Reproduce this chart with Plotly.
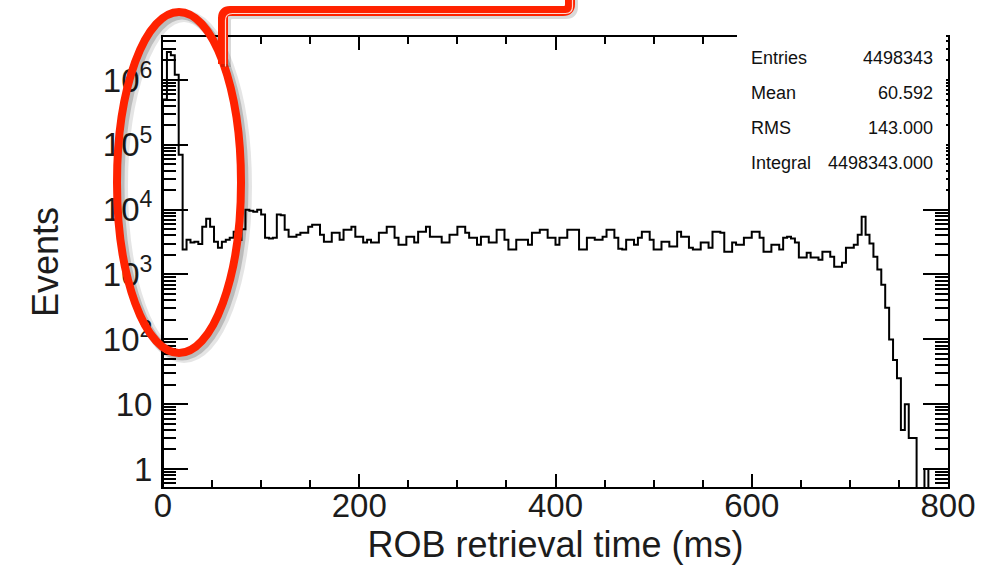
import numpy as np
import plotly.graph_objects as go

# ROB retrieval time distribution, 4 ms bins from 0 to 800 ms
BIN_WIDTH = 4
X_MIN, X_MAX = 0, 800

# 0-20 ms: the fast-retrieval spike
spike_counts = [500000, 2700000, 2400000, 1200000, 70000]

# 20-720 ms: the flat plateau
plateau_counts = [
    2420, 3440, 3100, 3200, 2950, 5470, 7260, 5470, 3210, 2590,
    3210, 3440, 3700, 4570, 3400, 5000, 10000, 9600, 9300, 10000,
    8400, 3700, 3600, 3700, 8400, 8200, 4910, 3830, 3830, 4110,
    4410, 4400, 5470, 5870, 5870, 4110, 3210, 3210, 4410, 4410,
    3440, 4910, 4910, 5470, 3830, 3830, 3100, 3440, 3100, 3100,
    4410, 4410, 5470, 5470, 3700, 2880, 2880, 3830, 3830, 3100,
    4570, 4570, 5470, 3830, 3830, 3830, 3100, 3100, 4110, 4110,
    5470, 5470, 4410, 3700, 3700, 2880, 3830, 3830, 3100, 3100,
    4910, 4910, 3440, 2420, 2420, 3440, 3440, 3440, 2880, 4410,
    4410, 4910, 4910, 3700, 3700, 2880, 3700, 3700, 4910, 4910,
    4910, 2420, 2420, 3700, 3700, 3440, 3440, 3830, 4910, 4910,
    3700, 2500, 2420, 3440, 3440, 2880, 3700, 4570, 4570, 3440,
    2420, 2420, 3210, 3210, 2690, 2690, 4570, 3830, 3830, 2590,
    2420, 2420, 3100, 3100, 2590, 4570, 4570, 4410, 2250, 2250,
    3100, 2880, 2880, 3700, 3700, 4570, 4570, 3700, 2250, 2250,
    2880, 2880, 2420, 3700, 3830, 3600, 3100, 1820, 1820, 2170,
    1820, 1820, 1690, 2250, 2250, 1880, 1320, 1320, 1520, 2590,
    2590, 2880, 4110, 7800, 4110,
]

# 720-800 ms: the timeout edge and tail
tail_counts = [3000, 1880, 1190, 697, 308, 99, 48, 25, 4, 10,
               3, 3, 0, 0, 1, 0, 0, 0, 0, 0]

y_tick_vals = [1, 10, 100, 1000, 10000, 100000, 1000000]
y_tick_text = ["1", "10", "10<sup>2</sup>", "10<sup>3</sup>",
               "10<sup>4</sup>", "10<sup>5</sup>", "10<sup>6</sup>"]
x_tick_vals = [0, 200, 400, 600, 800]

stats_labels = ["Entries", "Mean", "RMS", "Integral"]
stats_values = ["4498343", "60.592", "143.000", "4498343.000"]

counts = np.array(spike_counts + plateau_counts + tail_counts, dtype=float)
edges = np.arange(X_MIN, X_MAX + BIN_WIDTH, BIN_WIDTH)

# Empty bins sit on the bottom of the frame, as in a ROOT log plot
floor = 0.05
y_draw = np.where(counts > 0, counts, floor)
xs = np.concatenate([[edges[0]], edges[:-1], [edges[-1], edges[-1]]])
ys = np.concatenate([[floor], y_draw, [y_draw[-1], floor]])

minor_y = [k * 10.0 ** e for e in range(-1, 7) for k in range(2, 10)]

FONT = "Liberation Sans, Arial, sans-serif"
INK = "#1c1c1c"

# frame geometry in pixels (used to place decorations)
L, R, T, B = 163, 948, 37, 487


def px(x):
    return (x - L) / (R - L)


def py(y):
    return (B - y) / (B - T)


fig = go.Figure()
fig.add_trace(go.Scatter(
    x=xs, y=ys, mode="lines", line=dict(color="black", width=2, shape="hv"),
    hoverinfo="skip", showlegend=False,
))

fig.update_layout(
    width=983, height=566,
    margin=dict(l=L, r=983 - R, t=T, b=566 - B),
    paper_bgcolor="white", plot_bgcolor="white",
    showlegend=False,
    xaxis=dict(
        range=[X_MIN, X_MAX], tickvals=x_tick_vals, automargin=False,
        ticks="inside", ticklen=13, tickwidth=2, tickcolor="black",
        showline=True, linewidth=2, linecolor="black", mirror="ticks",
        showgrid=False, zeroline=False,
        minor=dict(dtick=50, ticks="inside", ticklen=7, tickwidth=2,
                   tickcolor="black", showgrid=False),
        tickfont=dict(family=FONT, size=33, color=INK),
        ticklabelstandoff=-12,
        title=dict(text="ROB retrieval time (ms)", standoff=7,
                   font=dict(family=FONT, size=36, color=INK)),
    ),
    yaxis=dict(
        type="log", range=[-0.278, 6.663], automargin=False,
        tickvals=y_tick_vals, ticktext=y_tick_text,
        ticks="inside", ticklen=25, tickwidth=2, tickcolor="black",
        showline=True, linewidth=2, linecolor="black", mirror="ticks",
        showgrid=False, zeroline=False,
        minor=dict(tickvals=minor_y, ticks="inside", ticklen=13, tickwidth=2,
                   tickcolor="black", showgrid=False),
        tickfont=dict(family=FONT, size=33, color=INK),
        ticklabelstandoff=2,
        title=dict(text="Events", standoff=33,
                   font=dict(family=FONT, size=36, color=INK)),
    ),
)

shapes = []
# statistics box hides the top-right part of the frame
shapes.append(dict(type="rect", xref="paper", yref="paper",
                   x0=px(737), x1=px(946), y0=py(192), y1=py(20),
                   fillcolor="white", line=dict(width=0), layer="above"))

# soft shadow behind the highlight ellipse
for dx, dy, a, w in [(5, 4, 0.10, 12), (3, 3, 0.18, 9)]:
    shapes.append(dict(type="circle", xref="paper", yref="paper",
                       x0=px(117 + dx), x1=px(241 + dx),
                       y0=py(353 + dy), y1=py(12 + dy),
                       line=dict(color=f"rgba(0,0,0,{a})", width=w),
                       fillcolor="rgba(0,0,0,0)", layer="above"))
shapes.append(dict(type="circle", xref="paper", yref="paper",
                   x0=px(117), x1=px(241), y0=py(353), y1=py(12),
                   line=dict(color="#ff2200", width=8),
                   fillcolor="rgba(0,0,0,0)", layer="above"))


def callout_path(dx=0.0, dy=0.0):
    x1, x2 = 223 + dx, 570 + dx
    y1, y2 = 64 + dy, 11 + dy
    r = 7
    return (f"M {px(x1)},{py(y1)} L {px(x1)},{py(y2 + r)} "
            f"Q {px(x1)},{py(y2)} {px(x1 + r)},{py(y2)} "
            f"L {px(x2 - r)},{py(y2)} Q {px(x2)},{py(y2)} {px(x2)},{py(y2 - r)} "
            f"L {px(x2)},{py(-6)}")


shapes.append(dict(type="path", xref="paper", yref="paper",
                   path=callout_path(3, 3),
                   line=dict(color="rgba(0,0,0,0.15)", width=10), layer="above"))
shapes.append(dict(type="path", xref="paper", yref="paper",
                   path=callout_path(),
                   line=dict(color="#ff2200", width=10), layer="above"))
shapes.append(dict(type="path", xref="paper", yref="paper",
                   path=callout_path(2.5, 2.5),
                   line=dict(color="#ffd9cf", width=1.2), layer="above"))
fig.update_layout(shapes=shapes)

annotations = []
for i, (lab, val) in enumerate(zip(stats_labels, stats_values)):
    yc = 58 + i * 35
    annotations.append(dict(xref="paper", yref="paper", x=px(749), y=py(yc),
                            text=lab, showarrow=False, xanchor="left",
                            yanchor="middle",
                            font=dict(family=FONT, size=18, color="#111")))
    annotations.append(dict(xref="paper", yref="paper", x=px(935), y=py(yc),
                            text=val, showarrow=False, xanchor="right",
                            yanchor="middle",
                            font=dict(family=FONT, size=18, color="#111")))
fig.update_layout(annotations=annotations)

fig.write_html("out.html")
